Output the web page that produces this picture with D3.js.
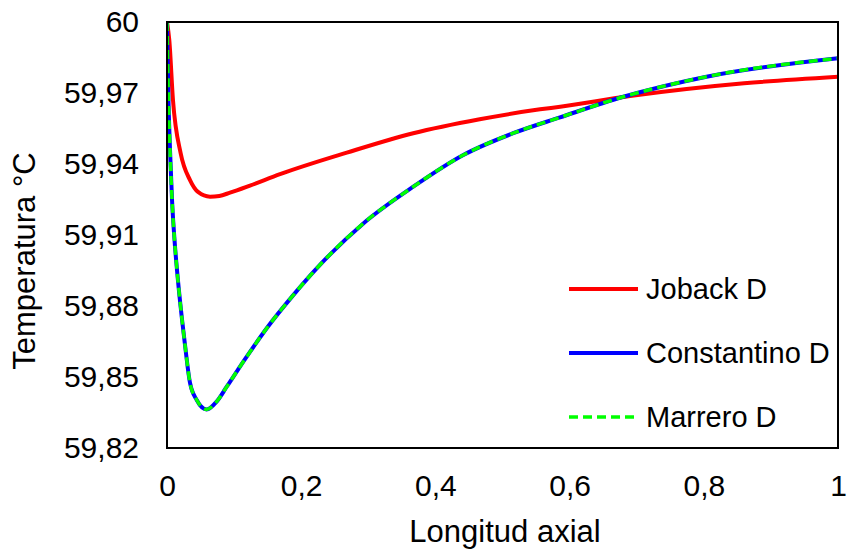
<!DOCTYPE html>
<html>
<head>
<meta charset="utf-8">
<script src="https://cdn.jsdelivr.net/npm/d3@7"></script>
<style>
  body { margin: 0; background: #fff; }
  text { font-family: "Liberation Sans", Arial, sans-serif; fill: #000; }
</style>
</head>
<body>
<script>
// axial length (0..1) and temperature (°C)
let jobackX = [0, 0.0034, 0.0089, 0.0204, 0.0343, 0.0462, 0.0641, 0.078, 0.0939, 0.1237, 0.1684, 0.268, 0.367, 0.466, 0.556, 0.586, 0.69, 0.86, 1.0];
let jobackT = [60, 59.9924, 59.967, 59.9445, 59.9332, 59.9282, 59.9262, 59.9265, 59.9279, 59.9309, 59.9357, 59.9448, 59.953, 59.9589, 59.9631, 59.9642, 59.9687, 59.9741, 59.9769];

let constX = [0, 0.0022, 0.0045, 0.0075, 0.0112, 0.0149, 0.0219, 0.0268, 0.0343, 0.0443, 0.0592, 0.074, 0.089, 0.1188, 0.1486, 0.1882, 0.2231, 0.2926, 0.367, 0.4416, 0.516, 0.5857, 0.68, 0.804, 1.0];
let constT = [60, 59.967, 59.9459, 59.9248, 59.9079, 59.8952, 59.8755, 59.8636, 59.8475, 59.8403, 59.8363, 59.8396, 59.8459, 59.8586, 59.8706, 59.8846, 59.8959, 59.9149, 59.9304, 59.9438, 59.953, 59.9597, 59.9684, 59.9769, 59.9847];

// Marrero lies on top of Constantino
let marreroX = [0, 0.0022, 0.0045, 0.0075, 0.0112, 0.0149, 0.0219, 0.0268, 0.0343, 0.0443, 0.0592, 0.074, 0.089, 0.1188, 0.1486, 0.1882, 0.2231, 0.2926, 0.367, 0.4416, 0.516, 0.5857, 0.68, 0.804, 1.0];
let marreroT = [60, 59.967, 59.9459, 59.9248, 59.9079, 59.8952, 59.8755, 59.8636, 59.8475, 59.8403, 59.8363, 59.8396, 59.8459, 59.8586, 59.8706, 59.8846, 59.8959, 59.9149, 59.9304, 59.9438, 59.953, 59.9597, 59.9684, 59.9769, 59.9847];

let seriesNames = ["Joback D", "Constantino D", "Marrero D"];

let xTicks = [0, 0.2, 0.4, 0.6, 0.8, 1];
let xTickLabels = ["0", "0,2", "0,4", "0,6", "0,8", "1"];
let yTicks = [59.82, 59.85, 59.88, 59.91, 59.94, 59.97, 60];
let yTickLabels = ["59,82", "59,85", "59,88", "59,91", "59,94", "59,97", "60"];

let w = 848, h = 550;
let margin = { top: 22, right: 10, bottom: 102, left: 167 };

let svg = d3.select("body").append("svg")
    .attr("width", w)
    .attr("height", h);

let x = d3.scaleLinear().domain([0, 1]).range([margin.left, w - margin.right]);
let y = d3.scaleLinear().domain([59.82, 60]).range([h - margin.bottom, margin.top]);

//axes, labels only
let xAxis = svg.append("g")
    .attr("transform", "translate(0," + (h - margin.bottom) + ")")
    .call(d3.axisBottom(x).tickValues(xTicks).tickSize(0).tickPadding(27)
        .tickFormat(function(d, i) { return xTickLabels[i]; }));
xAxis.select(".domain").remove();
xAxis.selectAll("text").style("font-size", "30px").style("font-family", "Liberation Sans, Arial, sans-serif");

let yAxis = svg.append("g")
    .attr("transform", "translate(" + margin.left + ",0)")
    .call(d3.axisLeft(y).tickValues(yTicks).tickSize(0).tickPadding(28)
        .tickFormat(function(d, i) { return yTickLabels[i]; }));
yAxis.select(".domain").remove();
yAxis.selectAll("text").style("font-size", "30px").style("font-family", "Liberation Sans, Arial, sans-serif");

let line = d3.line()
    .x(function(d) { return x(d[0]); })
    .y(function(d) { return y(d[1]); })
    .curve(d3.curveMonotoneX);

let series = [
    { name: seriesNames[0], pts: d3.zip(jobackX, jobackT), color: "#ff0000", dash: null, width: 4 },
    { name: seriesNames[1], pts: d3.zip(constX, constT), color: "#0000ff", dash: null, width: 4 },
    { name: seriesNames[2], pts: d3.zip(marreroX, marreroT), color: "#00ff00", dash: "9,5", width: 3.5 }
];

svg.append("defs").append("clipPath").attr("id", "plot")
    .append("rect")
    .attr("x", margin.left).attr("y", margin.top - 2)
    .attr("width", w - margin.left - margin.right)
    .attr("height", h - margin.top - margin.bottom + 2);

svg.append("g").attr("clip-path", "url(#plot)")
    .selectAll("path")
    .data(series)
    .enter()
    .append("path")
    .attr("d", function(d) { return line(d.pts); })
    .attr("fill", "none")
    .attr("stroke", function(d) { return d.color; })
    .attr("stroke-width", function(d) { return d.width; })
    .attr("stroke-dasharray", function(d) { return d.dash; })
    .attr("stroke-linejoin", "round");

//plot frame
svg.append("rect")
    .attr("x", margin.left)
    .attr("y", margin.top)
    .attr("width", w - margin.left - margin.right)
    .attr("height", h - margin.top - margin.bottom)
    .attr("fill", "none")
    .attr("stroke", "#000")
    .attr("stroke-width", 2);

//legend
let legendY = [289, 353, 417];
let legend = svg.selectAll(".legend")
    .data(series)
    .enter()
    .append("g")
    .attr("class", "legend")
    .attr("transform", function(d, i) { return "translate(569," + legendY[i] + ")"; });

legend.append("line")
    .attr("x1", 0).attr("x2", 69)
    .attr("stroke", function(d) { return d.color; })
    .attr("stroke-width", function(d) { return d.width; })
    .attr("stroke-dasharray", function(d) { return d.dash; });

legend.append("text")
    .attr("x", 77)
    .attr("dy", "0.35em")
    .style("font-size", "29px")
    .text(function(d) { return d.name; });

//axis titles
svg.append("text")
    .attr("x", 505)
    .attr("y", 542)
    .attr("text-anchor", "middle")
    .style("font-size", "31px")
    .text("Longitud axial");

svg.append("text")
    .attr("transform", "translate(35,261) rotate(-90)")
    .attr("text-anchor", "middle")
    .style("font-size", "31px")
    .text("Temperatura °C");
</script>
</body>
</html>
